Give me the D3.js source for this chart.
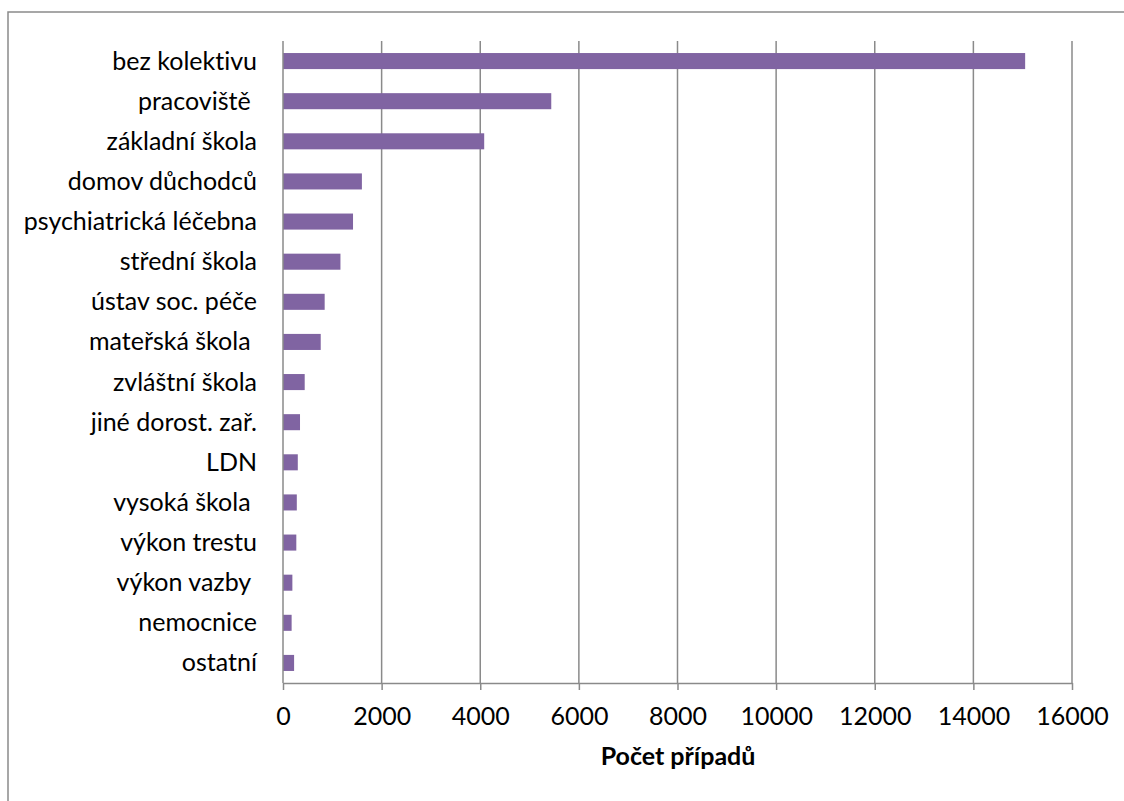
<!DOCTYPE html>
<html>
<head>
<meta charset="utf-8">
<script src="https://cdn.jsdelivr.net/npm/d3@7"></script>
<style>
  html, body { margin: 0; padding: 0; background: #fff; }
  svg { display: block; font-family: Lato, "Open Sans", sans-serif; font-variant-ligatures: none; font-feature-settings: "liga" 0, "clig" 0; }
  .cat { white-space: pre; }
</style>
</head>
<body>
<svg id="chart" width="1124" height="801"></svg>
<script>
// Cases by collective type (počet případů)
const categories = [
  "bez kolektivu", "pracoviště ", "základní škola", "domov důchodců",
  "psychiatrická léčebna", "střední škola", "ústav soc. péče", "mateřská škola ",
  "zvláštní škola", "jiné dorost. zař.", "LDN", "vysoká škola ",
  "výkon trestu", "výkon vazby ", "nemocnice", "ostatní"
];
const values = [15050, 5440, 4080, 1600, 1420, 1165, 845, 765, 440, 345, 300, 280, 270, 190, 175, 225];
const xTicks = [0, 2000, 4000, 6000, 8000, 10000, 12000, 14000, 16000];
const xTitle = "Počet případů";

const svg = d3.select("#chart");
const W = 1124, H = 801;
const plot = { left: 283, right: 1072, top: 41, bottom: 683 };
const gridColor = "#8a8a8a";
const barColor = "#8064A2";
const fontSize = 25;

// outer chart frame
svg.append("rect")
  .attr("x", 8).attr("y", 12)
  .attr("width", W + 10).attr("height", H + 10)
  .attr("fill", "#fff")
  .attr("stroke", gridColor).attr("stroke-width", 1.5);

const x = d3.scaleLinear().domain([0, 16000]).range([plot.left, plot.right]);
const y = d3.scaleBand().domain(categories)
  .range([plot.top, plot.bottom])
  .paddingInner(0.6).paddingOuter(0.3);

// vertical gridlines
svg.append("g")
  .selectAll("line")
  .data(xTicks.filter(d => d > 0))
  .join("line")
  .attr("x1", d => x(d)).attr("x2", d => x(d))
  .attr("y1", plot.top).attr("y2", plot.bottom)
  .attr("stroke", gridColor).attr("stroke-width", 1.5);

// bars
svg.append("g")
  .selectAll("rect")
  .data(categories)
  .join("rect")
  .attr("x", x(0))
  .attr("y", d => y(d))
  .attr("width", (d, i) => x(values[i]) - x(0))
  .attr("height", y.bandwidth())
  .attr("fill", barColor);

// category axis line
svg.append("line")
  .attr("x1", x(0)).attr("x2", x(0))
  .attr("y1", plot.top).attr("y2", plot.bottom)
  .attr("stroke", gridColor).attr("stroke-width", 1.5);

// category labels
svg.append("g")
  .selectAll("text")
  .data(categories)
  .join("text")
  .attr("class", "cat")
  .attr("x", 257)
  .attr("y", d => y(d) + y.bandwidth() / 2 + 8.5)
  .attr("text-anchor", "end")
  .attr("font-size", fontSize)
  .attr("fill", "#000")
  .text(d => d);

// value axis
const xAxis = d3.axisBottom(x)
  .tickValues(xTicks)
  .tickSize(7)
  .tickSizeOuter(0)
  .tickFormat(d3.format("d"));

const gx = svg.append("g")
  .attr("transform", `translate(0,${plot.bottom})`)
  .call(xAxis);
gx.select(".domain").attr("stroke", gridColor).attr("stroke-width", 1.5);
gx.selectAll(".tick line").attr("stroke", gridColor).attr("stroke-width", 1.5);
gx.selectAll(".tick text")
  .attr("y", 42).attr("dy", null)
  .attr("font-size", fontSize)
  .attr("font-family", "Lato, 'Open Sans', sans-serif")
  .attr("fill", "#000");

// axis title
svg.append("text")
  .attr("x", (plot.left + plot.right) / 2 + 0.5)
  .attr("y", 765)
  .attr("text-anchor", "middle")
  .attr("font-size", fontSize)
  .attr("font-weight", "bold")
  .attr("fill", "#000")
  .text(xTitle);
</script>
</body>
</html>
